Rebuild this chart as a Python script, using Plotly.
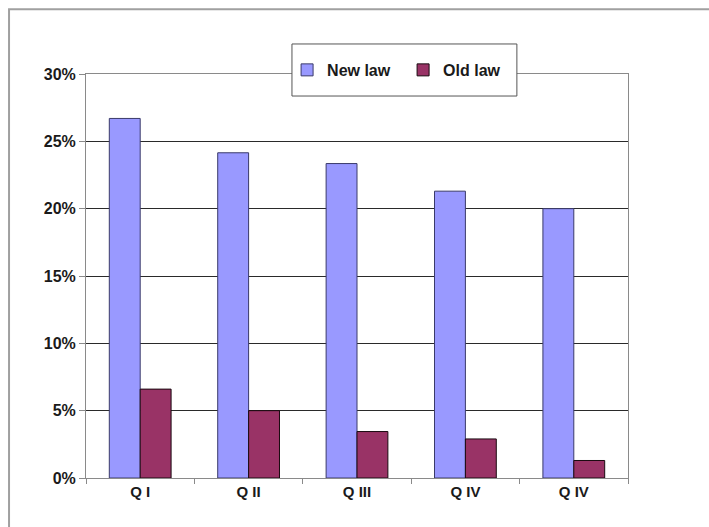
import plotly.graph_objects as go

# Quarterly shares under the new and old law
quarters = ["Q I", "Q II", "Q III", "Q IV", "Q IV"]
new_law = [26.7, 24.15, 23.35, 21.3, 20.0]
old_law = [6.6, 5.0, 3.45, 2.9, 1.3]

pos = list(range(len(quarters)))
font = "Arial, Liberation Sans, sans-serif"

fig = go.Figure()
fig.add_trace(go.Bar(
    x=pos, y=new_law, name="New law",
    marker=dict(color="#9999FF", line=dict(color="#3a3a6a", width=1)),
))
fig.add_trace(go.Bar(
    x=pos, y=old_law, name="Old law",
    marker=dict(color="#993366", line=dict(color="#1a0a10", width=1)),
))

fig.update_layout(
    width=709, height=527,
    margin=dict(l=86, r=81, t=74, b=49),
    paper_bgcolor="white", plot_bgcolor="white",
    barmode="group", bargap=0.43, bargroupgap=0,
    font=dict(family=font, size=15, color="#1a1a1a"),
    showlegend=True,
    legend=dict(
        orientation="h", x=0.371, y=1.01, xanchor="left", yanchor="middle",
        bgcolor="rgba(0,0,0,0)", borderwidth=0,
        font=dict(family=font, size=16, color="#1a1a1a", weight="bold"),
        entrywidth=71, itemwidth=30,
    ),
    xaxis=dict(
        range=[-0.5, 4.5], tickvals=pos, ticktext=quarters,
        ticks="", showgrid=False, zeroline=False,
        showline=True, linecolor="#8a8a8a", linewidth=1, mirror=True,
        tickfont=dict(family=font, size=15, color="#1a1a1a", weight="bold"),
        minor=dict(tickvals=[-0.5, 0.5, 1.5, 2.5, 3.5, 4.5], ticks="outside",
                   ticklen=5, tickcolor="#8a8a8a"),
    ),
    yaxis=dict(
        range=[0, 30], tickvals=[0, 5, 10, 15, 20, 25, 30],
        ticktext=["0%", "5%", "10%", "15%", "20%", "25%", "30%"],
        ticks="outside", ticklen=6, tickcolor="#8a8a8a",
        showgrid=True, gridcolor="#2a2a2a", gridwidth=1, zeroline=False,
        showline=True, linecolor="#8a8a8a", linewidth=1, mirror=True,
        tickfont=dict(family=font, size=16, color="#1a1a1a", weight="bold"),
    ),
    shapes=[
        # outer chart frame
        dict(type="rect", xref="paper", yref="paper",
             x0=-0.142, x1=1.3, y0=-0.3, y1=1.16,
             line=dict(color="#a0a0a0", width=2), fillcolor="rgba(0,0,0,0)",
             layer="below"),
        # legend box
        dict(type="rect", xref="paper", yref="paper",
             x0=0.380, x1=0.795, y0=0.9455, y1=1.0743,
             line=dict(color="#555555", width=1), fillcolor="white",
             layer="above"),
    ],
)

fig.write_html("out.html")
